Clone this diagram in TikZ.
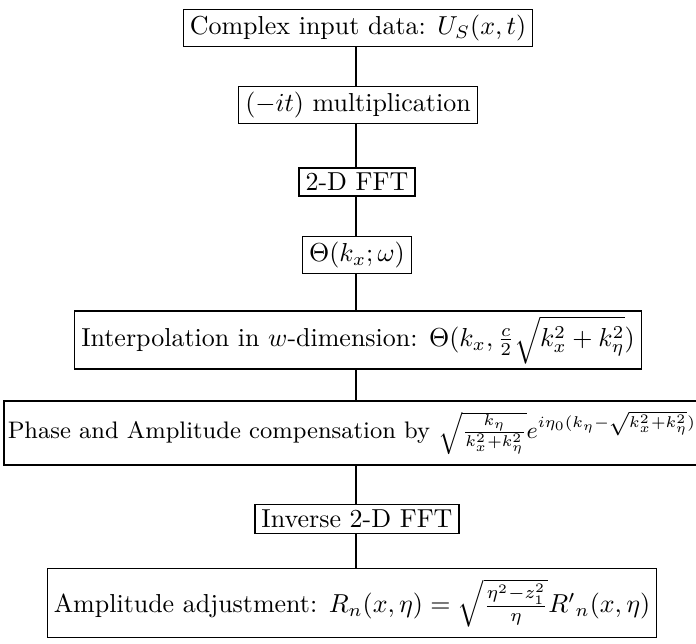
\documentclass[tikz,border=0pt]{standalone}
\usepackage{amsmath}
\usetikzlibrary{positioning}
\tikzset{
  stepbox/.style={draw, line width=0.5pt, inner xsep=2.5pt, inner ysep=2pt, align=center},
  link/.style={line width=1.1pt},
}

\begin{document}
\begin{tikzpicture}[x=0.385pt, y=-0.385pt]
  \useasboundingbox (0,0) rectangle (696,644);
  \coordinate (spine) at (356,0);
  \node[stepbox] (input) at (358,28) {Complex input data: $U_S(x,t)$};
  \node[stepbox] (mult) at (358,105) {$(-it)$ multiplication};
  \node[stepbox] (fft) at (357,182) {2-D FFT};
  \node[stepbox] (theta) at (357,255) {$\Theta(k_x;\omega)$};
  \node[stepbox] (interp) at (358,340) {Interpolation in $w$-dimension: $\Theta(k_x,\frac{c}{2}\sqrt{k_x^2+k_\eta^2})$};
  \node[stepbox, inner ysep=4pt, inner xsep=1.5pt, font=\fontsize{9.2pt}{11pt}\selectfont] (phase) at (352,433) {Phase and Amplitude compensation by $\sqrt{\frac{k_\eta}{k_x^2+k_\eta^2}}e^{i\eta_0(k_\eta-\sqrt{k_x^2+k_\eta^2})}$};
  \node[stepbox] (ifft) at (357,519) {Inverse 2-D FFT};
  \node[stepbox, inner ysep=4pt] (adjust) at (352,603) {Amplitude adjustment: $R_n(x,\eta)=\sqrt{\frac{\eta^2-z_1^2}{\eta}}{R'}_n(x,\eta)$};
  \draw[link] (input.south -| spine) -- (mult.north -| spine);
  \draw[link] (mult.south -| spine) -- (fft.north -| spine);
  \draw[link] (fft.south -| spine) -- (theta.north -| spine);
  \draw[link] (theta.south -| spine) -- (interp.north -| spine);
  \draw[link] (interp.south -| spine) -- (phase.north -| spine);
  \draw[link] (phase.south -| spine) -- (ifft.north -| spine);
  \draw[link] (ifft.south -| spine) -- (adjust.north -| spine);
\end{tikzpicture}
\end{document}
